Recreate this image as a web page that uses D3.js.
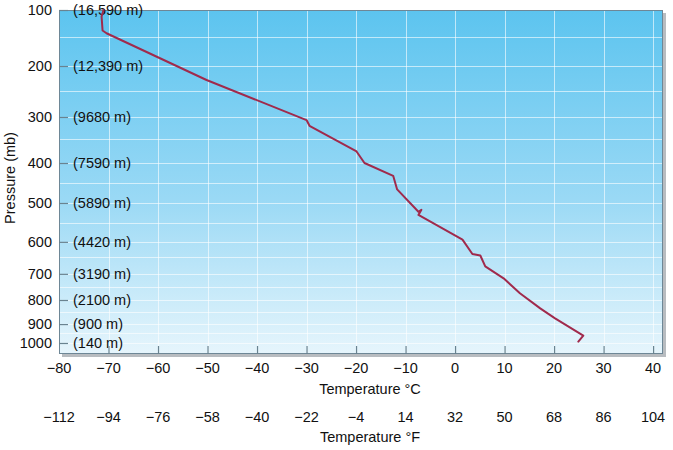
<!DOCTYPE html>
<html>
<head>
<meta charset="utf-8">
<script src="https://cdn.jsdelivr.net/npm/d3@7"></script>
<style>
  html, body { margin: 0; padding: 0; background: #ffffff; }
  svg { display: block; font-family: "Liberation Sans", Arial, Helvetica, sans-serif; }
</style>
</head>
<body>
<svg id="chart" width="673" height="450"></svg>
<script>
// ---- data ----
const pressureTicks = [100, 200, 300, 400, 500, 600, 700, 800, 900, 1000];
const heightLabels = ["(16,590 m)", "(12,390 m)", "(9680 m)", "(7590 m)", "(5890 m)",
                      "(4420 m)", "(3190 m)", "(2100 m)", "(900 m)", "(140 m)"];
const pressureGrid = [100, 150, 200, 250, 300, 350, 400, 450, 500, 550, 600, 650,
                      700, 750, 800, 850, 900, 950, 1000];
const celsiusTicks = [-80, -70, -60, -50, -40, -30, -20, -10, 0, 10, 20, 30, 40];
const fahrenheitLabels = [-112, -94, -76, -58, -40, -22, -4, 14, 32, 50, 68, 86, 104];
// sounding: temperature (°C) and pressure (mb)
const soundingTemp = [-71.0, -71.4, -71.2, -70.4, -50.2, -30.0, -29.4, -19.9, -18.3,
                      -12.5, -11.7, -7.4, -6.8, -7.4, 1.5, 3.5, 5.1, 6.1, 9.8, 13.1,
                      17.2, 20.2, 25.9, 24.9];
const soundingPres = [100, 112, 138, 143, 228, 307, 320, 376, 400,
                      432, 466, 522, 517, 530, 594, 640, 645, 678, 717, 774,
                      835, 876, 963, 993];

(function () {
// ---- layout ----
const svg = d3.select("#chart");
const mL = 59, mR = 663, mT = 10, mB = 354;
const H = mB - mT;

const x = d3.scaleLinear().domain([-80, 42]).range([mL, mR]);
// the chart's pressure axis is a hand-drawn, non-uniform scale: piecewise linear
const yFrac = [0, 0.0785, 0.1628, 0.2355, 0.311, 0.375, 0.4448, 0.503, 0.561, 0.619,
               0.674, 0.718, 0.767, 0.805, 0.843, 0.878, 0.913, 0.939, 0.968, 1.0];
const y = d3.scaleLinear()
  .domain(pressureGrid.concat([1050]))
  .range(yFrac.map(f => mT + f * H));

// ---- background ----
const defs = svg.append("defs");
const grad = defs.append("linearGradient").attr("id", "bg")
  .attr("x1", 0).attr("y1", 0).attr("x2", 0).attr("y2", 1);
grad.append("stop").attr("offset", "0%").attr("stop-color", "#5cc4ef");
grad.append("stop").attr("offset", "55%").attr("stop-color", "#9ad9f5");
grad.append("stop").attr("offset", "100%").attr("stop-color", "#e6f5fc");

// shadow
svg.append("rect")
  .attr("x", mL + 3).attr("y", mT + 3)
  .attr("width", mR - mL).attr("height", H)
  .attr("fill", "#b8bcc0");
svg.append("rect")
  .attr("x", mL).attr("y", mT)
  .attr("width", mR - mL).attr("height", H)
  .attr("fill", "url(#bg)");

// gridlines
svg.append("g").selectAll("line")
  .data(pressureGrid.filter(p => p > 100))
  .join("line")
  .attr("x1", mL).attr("x2", mR)
  .attr("y1", d => Math.round(y(d)) + 0.5).attr("y2", d => Math.round(y(d)) + 0.5)
  .attr("stroke", "#ffffff").attr("stroke-opacity", 0.6).attr("stroke-width", 1);
svg.append("g").selectAll("line")
  .data(celsiusTicks.filter(t => t > -80))
  .join("line")
  .attr("x1", d => Math.round(x(d)) + 0.5).attr("x2", d => Math.round(x(d)) + 0.5)
  .attr("y1", mT).attr("y2", mB)
  .attr("stroke", "#ffffff").attr("stroke-opacity", 0.6).attr("stroke-width", 1);

// border
svg.append("rect")
  .attr("x", mL + 0.5).attr("y", mT + 0.5)
  .attr("width", mR - mL - 1).attr("height", H - 1)
  .attr("fill", "none").attr("stroke", "#6e8796").attr("stroke-width", 1);

// y ticks (inside) + labels
const yAxis = d3.axisRight(y).tickValues(pressureTicks).tickSize(9).tickFormat("");
const yg = svg.append("g").attr("transform", `translate(${mL},0)`).call(yAxis);
yg.select(".domain").remove();
yg.selectAll(".tick line").attr("stroke", "#6a8390").attr("stroke-width", 1.2);

svg.append("g").selectAll("text")
  .data(pressureTicks)
  .join("text")
  .attr("x", 52).attr("y", d => y(d)).attr("dy", "0.36em")
  .attr("text-anchor", "end").attr("font-size", 14.5).attr("fill", "#111")
  .text(d => d);

svg.append("g").selectAll("text")
  .data(pressureTicks)
  .join("text")
  .attr("x", 73).attr("y", d => y(d)).attr("dy", "0.36em")
  .attr("font-size", 14.5).attr("fill", "#111")
  .text((d, i) => heightLabels[i]);

svg.append("text")
  .attr("transform", "translate(15,178) rotate(-90)")
  .attr("text-anchor", "middle").attr("font-size", 14.5).attr("fill", "#111")
  .text("Pressure (mb)");

// x ticks (inside, going up) + labels
const xAxis = d3.axisTop(x).tickValues(celsiusTicks.filter(t => t > -80)).tickSize(8).tickFormat("");
const xg = svg.append("g").attr("transform", `translate(0,${mB})`).call(xAxis);
xg.select(".domain").remove();
xg.selectAll(".tick line").attr("stroke", "#6a8390").attr("stroke-width", 1.2);

const fmt = v => (v < 0 ? "\u2212" + Math.abs(v) : String(v));
svg.append("g").selectAll("text")
  .data(celsiusTicks)
  .join("text")
  .attr("x", d => x(d)).attr("y", 368).attr("dy", "0.36em")
  .attr("text-anchor", "middle").attr("font-size", 14.5).attr("fill", "#111")
  .text(d => fmt(d));
svg.append("text")
  .attr("x", 370).attr("y", 389).attr("dy", "0.36em")
  .attr("text-anchor", "middle").attr("font-size", 14.5).attr("fill", "#111")
  .text("Temperature \u00b0C");

svg.append("g").selectAll("text")
  .data(fahrenheitLabels)
  .join("text")
  .attr("x", (d, i) => x(celsiusTicks[i])).attr("y", 417).attr("dy", "0.36em")
  .attr("text-anchor", "middle").attr("font-size", 14.5).attr("fill", "#111")
  .text(d => fmt(d));
svg.append("text")
  .attr("x", 370).attr("y", 437).attr("dy", "0.36em")
  .attr("text-anchor", "middle").attr("font-size", 14.5).attr("fill", "#111")
  .text("Temperature \u00b0F");

// sounding line
const pts = soundingTemp.map((t, i) => [t, soundingPres[i]]);
svg.append("path")
  .datum(pts)
  .attr("d", d3.line().x(d => x(d[0])).y(d => y(d[1])))
  .attr("fill", "none").attr("stroke", "#a02a4c").attr("stroke-width", 2)
  .attr("stroke-linejoin", "round").attr("stroke-linecap", "round");
})();
</script>
</body>
</html>
